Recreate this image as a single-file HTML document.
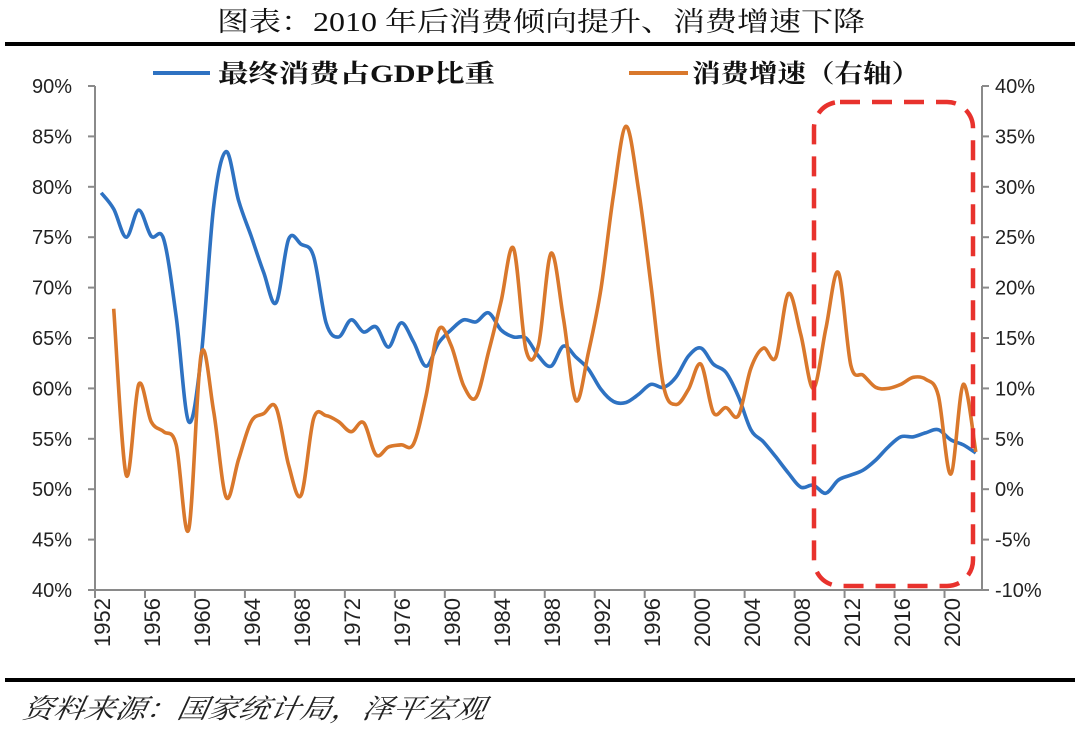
<!DOCTYPE html>
<html><head><meta charset="utf-8"><style>
html,body{margin:0;padding:0;background:#fff;}
svg{display:block;}
</style></head><body>
<svg id="s" width="1080" height="729" viewBox="0 0 1080 729" xmlns="http://www.w3.org/2000/svg">
<rect width="1080" height="729" fill="#fff"/>
<text x="217" y="31" font-family="'Liberation Serif','Noto Serif CJK SC',serif" font-size="27" fill="#111" textLength="648" lengthAdjust="spacingAndGlyphs">图表：2010 年后消费倾向提升、消费增速下降</text>
<rect x="5" y="42" width="1070" height="4" fill="#000"/>
<rect x="5" y="678" width="1070" height="4" fill="#000"/>
<text x="22" y="718" font-family="'Liberation Serif','Noto Serif CJK SC',serif" font-size="27" font-style="italic" fill="#222" textLength="463" lengthAdjust="spacingAndGlyphs" transform="skewX(-10) translate(126,0)">资料来源：国家统计局，泽平宏观</text>
<line x1="153" y1="73" x2="210" y2="73" stroke="#2e72c2" stroke-width="4"/>
<text x="218" y="82" font-family="'Liberation Serif','Noto Serif CJK SC',serif" font-weight="bold" font-size="25" fill="#111" textLength="277" lengthAdjust="spacingAndGlyphs">最终消费占GDP比重</text>
<line x1="629" y1="73" x2="688" y2="73" stroke="#d9782c" stroke-width="4"/>
<text x="692" y="82" font-family="'Liberation Serif','Noto Serif CJK SC',serif" font-weight="bold" font-size="25" fill="#111" textLength="228" lengthAdjust="spacingAndGlyphs">消费增速（右轴）</text>
<g id="axes" stroke="#8a8a8a" stroke-width="2" fill="none"></g>
<g id="labels" font-family="'Liberation Sans',sans-serif" font-size="20" fill="#222"></g>
<path id="blue" fill="none" stroke="#2e72c2" stroke-width="3.6" stroke-linejoin="round"/>
<path id="orange" fill="none" stroke="#d9782c" stroke-width="3.6" stroke-linejoin="round"/>
<rect x="814" y="102" width="159" height="484" rx="26" fill="none" stroke="#e8322d" stroke-width="4.5" stroke-dasharray="20 12"/>
</svg>
<script>
var NS="http://www.w3.org/2000/svg";
var X0=95,X1=982,W=(X1-X0)/71,YB=590,YT=86,PX=(YB-YT)/50;
function el(p,t,a,txt){var e=document.createElementNS(NS,t);for(var k in a)e.setAttribute(k,a[k]);if(txt)e.textContent=txt;p.appendChild(e);return e;}
var ax=document.getElementById('axes'),lb=document.getElementById('labels');
el(ax,'line',{x1:X0,y1:YT,x2:X0,y2:YB});
el(ax,'line',{x1:X1,y1:YT,x2:X1,y2:YB});
el(ax,'line',{x1:X0,y1:YB,x2:X1,y2:YB});
for(var i=0;i<=10;i++){var y=YB-i*5*PX;
 el(ax,'line',{x1:X0-7,y1:y,x2:X0,y2:y});el(ax,'line',{x1:X1,y1:y,x2:X1+7,y2:y});
 el(lb,'text',{x:72,y:y+7,'text-anchor':'end'},(40+i*5)+'%');
 el(lb,'text',{x:995,y:y+7},(-10+i*5)+'%');}
for(var yr=1952;yr<=2020;yr+=4){var x=X0+(yr-1952)*W;
 el(ax,'line',{x1:x,y1:YB,x2:x,y2:YB+8});
 var cx=x+W/2+1;
 el(lb,'text',{x:0,y:0,'text-anchor':'end',transform:'translate('+(cx+8)+','+598+') rotate(-90)','font-size':'22'},''+yr);}
var blue=[79.4,77.8,75.0,77.7,75.1,74.8,67.1,56.7,63.2,78.1,83.5,78.6,75.1,71.5,68.5,74.8,74.3,73.1,66.5,65.1,66.8,65.6,66.1,64.1,66.5,64.6,62.2,64.5,65.8,66.8,66.6,67.5,65.8,65.1,65.0,63.2,62.2,64.2,63.1,61.9,59.9,58.7,58.6,59.4,60.4,60.1,61.1,63.2,64.0,62.4,61.6,59.2,55.9,54.7,53.2,51.6,50.2,50.4,49.6,50.9,51.4,51.9,52.9,54.2,55.2,55.2,55.6,55.9,54.9,54.4,53.6];
var orange=[17.9,1.4,10.4,6.7,5.7,4.4,-4.0,13.4,7.7,-0.8,3.0,6.7,7.5,8.1,2.4,-0.6,7.0,7.3,6.7,5.7,6.6,3.4,4.2,4.4,4.5,9.3,15.8,14.3,10.3,9.1,13.6,18.6,23.9,13.8,14.3,23.4,16.9,8.8,13.6,19.9,29.2,36.0,29.8,20.3,10.3,8.4,9.9,12.4,7.6,8.1,7.3,12.0,14.0,13.1,19.4,15.3,10.0,15.9,21.5,12.3,11.3,10.1,10.0,10.4,11.1,10.9,9.3,1.5,10.4,3.7];
function pts(arr,start,f){return arr.map(function(v,i){return [X0+(start-1952+i+0.5)*W,f(v)];});}
function path(p){var d='M'+p[0][0].toFixed(1)+','+p[0][1].toFixed(1);
 for(var i=0;i<p.length-1;i++){var p0=p[i-1]||p[i],p1=p[i],p2=p[i+1],p3=p[i+2]||p2;
  var c1=[p1[0]+(p2[0]-p0[0])/6,p1[1]+(p2[1]-p0[1])/6],c2=[p2[0]-(p3[0]-p1[0])/6,p2[1]-(p3[1]-p1[1])/6];
  d+=' C'+c1[0].toFixed(1)+','+c1[1].toFixed(1)+' '+c2[0].toFixed(1)+','+c2[1].toFixed(1)+' '+p2[0].toFixed(1)+','+p2[1].toFixed(1);}
 return d;}
document.getElementById('blue').setAttribute('d',path(pts(blue,1952,function(v){return YB-(v-40)*PX;})));
document.getElementById('orange').setAttribute('d',path(pts(orange,1953,function(v){return YB-(v+10)*PX;})));
</script>
</body></html>
